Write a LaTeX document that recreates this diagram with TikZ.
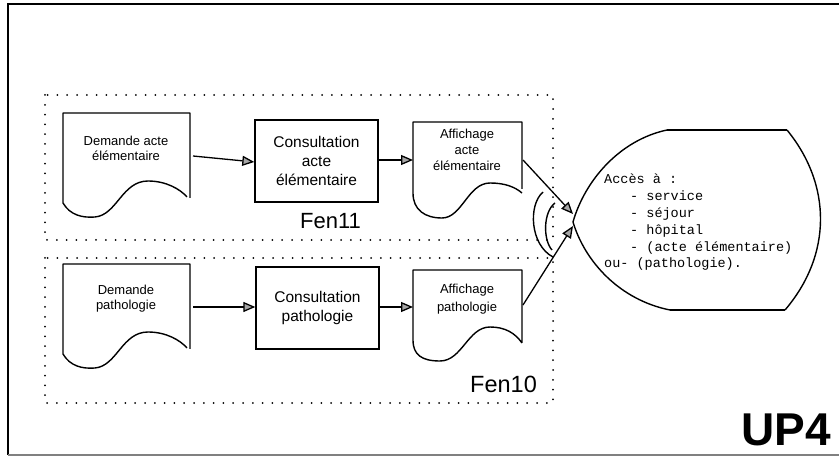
\documentclass[tikz,border=0pt]{standalone}
\usepackage{fontspec}
\setmainfont{Liberation Sans}
\newfontfamily\monof{Liberation Mono}
\usetikzlibrary{arrows.meta}
\begin{document}
\begin{tikzpicture}[x=1pt,y=-1pt,
  shapeline/.style={line width=1.4pt,line join=round},
  flow/.style={line width=1.3pt,-{Triangle[length=12pt,width=10pt,fill=gray!70]}},
  dotbox/.style={line width=2pt,dash pattern=on 0pt off 9.8pt,line cap=round},
  doctext/.style={align=center,font=\fontsize{13}{15}\selectfont,inner sep=0pt},
  boxtext/.style={align=center,font=\fontsize{15.5}{19}\selectfont,inner sep=0pt},
  procbox/.style={draw,line width=1.4pt,minimum width=123pt,minimum height=82pt,inner sep=0pt},
  fenlabel/.style={anchor=base west,inner sep=0pt}]
\useasboundingbox (0,0) rectangle (839,457);
% outer frame
\draw[line width=2pt] (840,4) -- (8,4) -- (8,455);
\draw[gray,line width=1.5pt] (8,455) -- (840,455);
% dotted windows
\draw[dotbox] (45,95) rectangle (553,240);
\draw[dotbox] (45,258) rectangle (553,403);
\node[fenlabel,font=\fontsize{22}{24}\selectfont] (fen11) at (300,229) {Fen11};
\node[fenlabel,font=\fontsize{23.5}{25}\selectfont] (fen10) at (470,392) {Fen10};
% document shapes
\draw[shapeline] (190,198) -- (190,113) -- (63,113) -- (63,203)
  .. controls (70,215) and (82,218) .. (95,217)
  .. controls (117,215) and (122,181) .. (148,181)
  .. controls (166,181) and (180,189) .. (187,197);
\draw[shapeline] (190,349) -- (190,264) -- (63,264) -- (63,354)
  .. controls (70,366) and (82,369) .. (95,368)
  .. controls (117,366) and (122,332) .. (148,332)
  .. controls (166,332) and (180,340) .. (187,348);
\draw[shapeline] (522,189) -- (522,122) -- (413,122) -- (413,193)
  .. controls (413,210) and (425,218) .. (442,218)
  .. controls (462,218) and (468,183) .. (490,183)
  .. controls (505,183) and (515,187) .. (522,193);
\draw[shapeline] (522,343) -- (522,270) -- (413,270) -- (413,340)
  .. controls (413,355) and (422,361) .. (440,361)
  .. controls (462,361) and (468,327) .. (490,327)
  .. controls (505,327) and (515,333) .. (522,343);
\node[doctext] (dem1) at (126,148) {Demande acte\\élémentaire};
\node[doctext] (dem2) at (126,299) {Demande\\pathologie};
\node[doctext,font=\fontsize{13}{16}\selectfont] (aff1) at (467,150) {Affichage\\acte\\élémentaire};
\node[doctext,font=\fontsize{13}{18}\selectfont] (aff2) at (467,299) {Affichage\\pathologie};
% process boxes
\node[procbox,boxtext] (con1) at (316.5,161) {Consultation\\acte\\élémentaire};
\node[procbox,boxtext] (con2) at (317.5,308) {Consultation\\pathologie};
% connector points
\coordinate (d1o) at (193,156);
\coordinate (d2o) at (193,307);
\coordinate (a1o) at (523,160);
\coordinate (a2o) at (523,305);
\coordinate (a1i) at (413,160);
\coordinate (a2i) at (413,307);
\coordinate (t1) at (573,214);
\coordinate (t2) at (573,226);
% bubble
\coordinate (btl) at (667,130);
\coordinate (btr) at (787,130);
\coordinate (bbr) at (785,310);
\coordinate (bbl) at (670,310);
\coordinate (btip) at (573,222);
\draw[shapeline] (btl) -- (btr);
\draw[shapeline] (bbl) -- (bbr);
\draw[shapeline] (btr) .. controls (832,185) and (832,255) .. (bbr);
\draw[shapeline] (bbl) .. controls (620,300) and (585,262) .. (btip);
\draw[shapeline] (btip) .. controls (585,180) and (620,140) .. (btl);
\node[anchor=base west,align=left,inner sep=0pt,font=\monof\fontsize{13.5}{16.8}\selectfont] (acc) at (604,268)
  {Accès à :\\
   \hspace*{26pt}- service\\
   \hspace*{26pt}- séjour\\
   \hspace*{26pt}- hôpital\\
   \hspace*{26pt}- (acte élémentaire)\\
   ou- (pathologie).};
% or-symbol arcs
\draw[shapeline] (543,192) .. controls (528,205) and (530,245) .. (553,257);
\draw[shapeline] (555,203) .. controls (543,212) and (543,240) .. (552,250);
% flows
\draw[flow] (d1o) -- (con1.west |- 0,162);
\draw[flow] (con1.east |- 0,160) -- (a1i);
\draw[flow] (d2o) -- (con2.west |- 0,307);
\draw[flow] (con2.east |- 0,307) -- (a2i);
\draw[flow] (a1o) -- (t1);
\draw[flow] (a2o) -- (t2);
% label
\node[anchor=base west,inner sep=0pt,font=\bfseries\fontsize{46}{48}\selectfont] (up4) at (741,445) {UP4};
\end{tikzpicture}
\end{document}
